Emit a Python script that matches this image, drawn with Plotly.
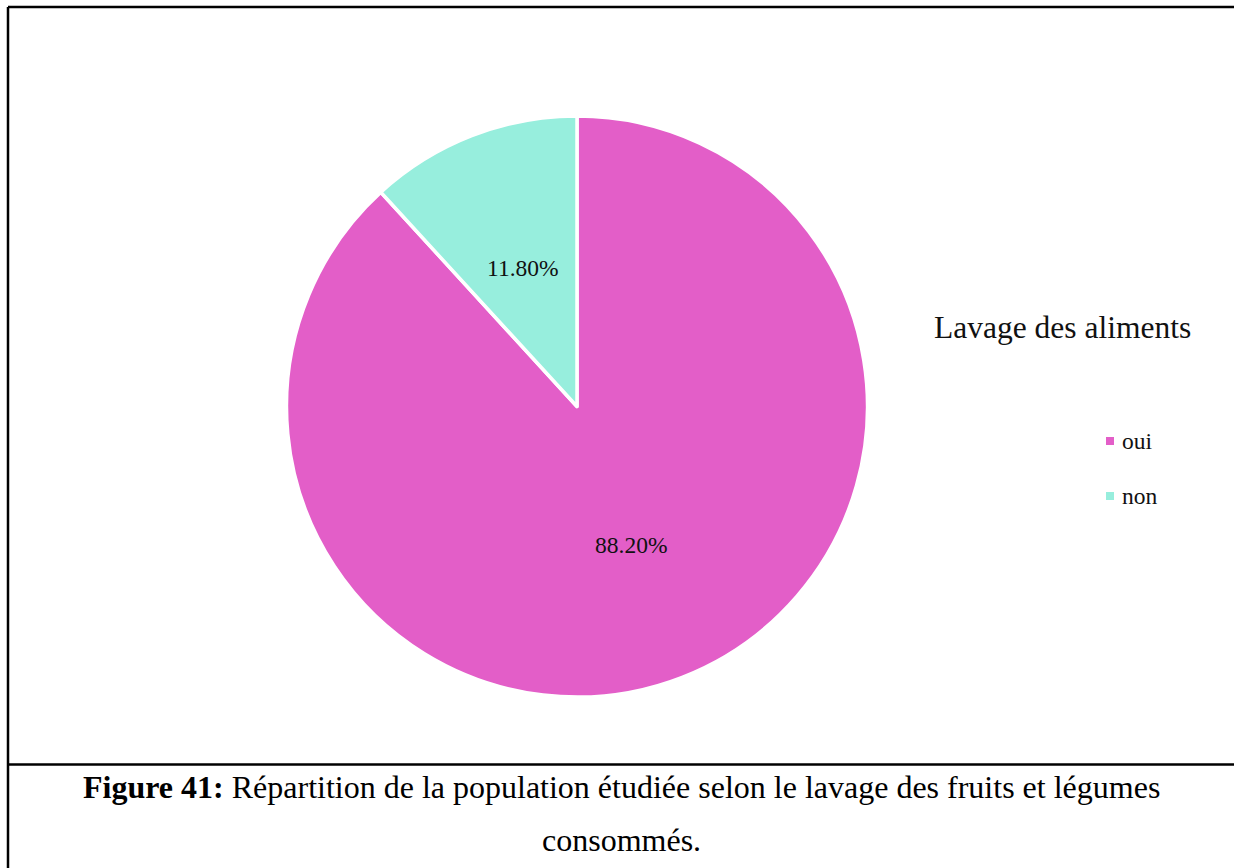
import math
import plotly.graph_objects as go

# Data
labels = ["oui", "non"]
values = [88.2, 11.8]
colors = ["#E35EC8", "#97EEDD"]
legend_title = "Lavage des aliments"
caption_bold = "Figure 41:"
caption_line1 = " Répartition de la population étudiée selon le lavage des fruits et légumes"
caption_line2 = "consommés."

W, H = 1234, 868
FONT = "Liberation Serif"

# pie geometry in pixels
CX, CY, R = 577, 406.5, 290.5


def px(x):
    return x / W


def py(y):
    return 1 - y / H


fig = go.Figure()

fig.add_trace(go.Pie(
    labels=labels,
    values=values,
    sort=False,
    direction="clockwise",
    rotation=0,
    marker=dict(colors=colors, line=dict(color="white", width=3.5)),
    textinfo="none",
    hoverinfo="label+percent",
    domain=dict(x=[px(CX - R), px(CX + R)], y=[py(CY + R), py(CY - R)]),
    showlegend=False,
))

shapes = [
    # frame
    dict(type="line", xref="paper", yref="paper", x0=px(8), x1=1, y0=py(7), y1=py(7),
         line=dict(color="black", width=2.5)),
    dict(type="line", xref="paper", yref="paper", x0=px(8), x1=px(8), y0=py(7), y1=0,
         line=dict(color="black", width=2.5)),
    dict(type="line", xref="paper", yref="paper", x0=px(8), x1=1, y0=py(764.5), y1=py(764.5),
         line=dict(color="black", width=2.5)),
]

annotations = [
    dict(text=legend_title, xref="paper", yref="paper", x=px(1062), y=py(328),
         xanchor="center", yanchor="middle", showarrow=False,
         font=dict(family=FONT, size=31.5, color="#111111")),
    dict(text="<b>" + caption_bold + "</b>" + caption_line1, xref="paper", yref="paper",
         x=px(621), y=py(787), xanchor="center", yanchor="middle", showarrow=False,
         font=dict(family=FONT, size=32, color="#000000")),
    dict(text=caption_line2, xref="paper", yref="paper",
         x=px(621), y=py(840), xanchor="center", yanchor="middle", showarrow=False,
         font=dict(family=FONT, size=32, color="#000000")),
]

# percentage labels placed along each slice's bisector
total = sum(values)
start = 0.0
for v in values:
    mid = (start + v / 2) / total * 2 * math.pi
    start += v
    r = 0.51 * R
    annotations.append(dict(
        text=f"{v / total * 100:.2f}%", xref="paper", yref="paper",
        x=px(CX + r * math.sin(mid)), y=py(CY - r * math.cos(mid)),
        xanchor="center", yanchor="middle", showarrow=False,
        font=dict(family=FONT, size=23.5, color="#111111")))

# legend entries drawn as small squares with labels
legend_rows = [441, 496]
for lab, col, yc in zip(labels, colors, legend_rows):
    shapes.append(dict(type="rect", xref="paper", yref="paper",
                       x0=px(1106), x1=px(1114), y0=py(yc + 4), y1=py(yc - 4),
                       fillcolor=col, line=dict(width=0)))
    annotations.append(dict(text=lab, xref="paper", yref="paper", x=px(1120), y=py(yc),
                            xanchor="left", yanchor="middle", showarrow=False,
                            font=dict(family=FONT, size=23.5, color="#111111")))

fig.update_layout(
    width=W, height=H,
    margin=dict(l=0, r=0, t=0, b=0),
    paper_bgcolor="white",
    plot_bgcolor="white",
    shapes=shapes,
    annotations=annotations,
)

fig.write_html("out.html")
